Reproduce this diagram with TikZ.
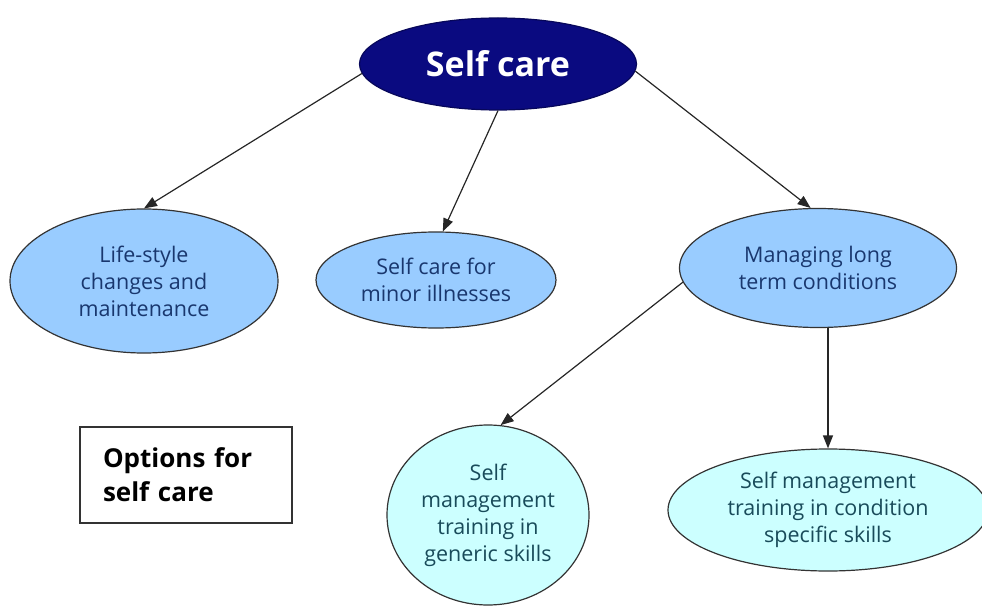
\documentclass[tikz,border=0pt]{standalone}
\usepackage{fontspec}
\setmainfont{Open Sans}
\usetikzlibrary{shapes.geometric,arrows.meta}
\definecolor{navy}{RGB}{10,10,128}
\definecolor{lblue}{RGB}{153,204,255}
\definecolor{lcyan}{RGB}{204,255,255}
\definecolor{tblue}{RGB}{25,55,110}
\definecolor{tteal}{RGB}{25,75,90}
\tikzset{
  oval/.style={ellipse, draw=black!80, line width=1.2pt, inner sep=0pt, align=center},
  bluebox/.style={oval, fill=lblue, text=tblue, font=\fontsize{21.5}{27}\selectfont},
  cyanbox/.style={oval, fill=lcyan, text=tteal, font=\fontsize{21.5}{27}\selectfont},
  link/.style={draw=black!85, line width=1.2pt, -{Triangle[length=13pt,width=10pt]}}
}
\begin{document}
\begin{tikzpicture}[x=1pt,y=-1pt]
\useasboundingbox (0,0) rectangle (982,612);
\node[oval, fill=navy, draw=navy!70!black, text=white, font=\fontsize{34}{40}\selectfont\bfseries,
  minimum width=277pt, minimum height=92pt] (sc) at (498,64) {Self care};
\node[bluebox, minimum width=268pt, minimum height=144pt] (life) at (144,281) {Life-style\\changes and\\maintenance};
\node[bluebox, minimum width=240pt, minimum height=96pt] (minor) at (436,280) {Self care for\\minor illnesses};
\node[bluebox, minimum width=277pt, minimum height=119pt] (manage) at (818,268) {Managing long\\term conditions};
\node[cyanbox, minimum width=202pt, minimum height=180pt] (generic) at (488,515) {Self\\management\\training in\\generic skills};
\node[cyanbox, minimum width=320pt, minimum height=122pt] (cond) at (828,510) {Self management\\training in condition\\specific skills};
\node[draw=black!80, line width=1.2pt, minimum width=212pt, minimum height=96pt, inner sep=0pt,
  text width=166pt, align=left, font=\fontsize{26}{34}\selectfont\bfseries] (opt) at (186,475) {Options for\\self care};
\draw[link] (sc.184) -- (life.north);
\draw[link] (sc.south) -- (minor.82);
\draw[link] (sc.-3) -- (manage.97);
\draw[link] (manage.186) -- (generic.82);
\draw[link] (cond.north |- manage.south) -- (cond.north);
\end{tikzpicture}
\end{document}
